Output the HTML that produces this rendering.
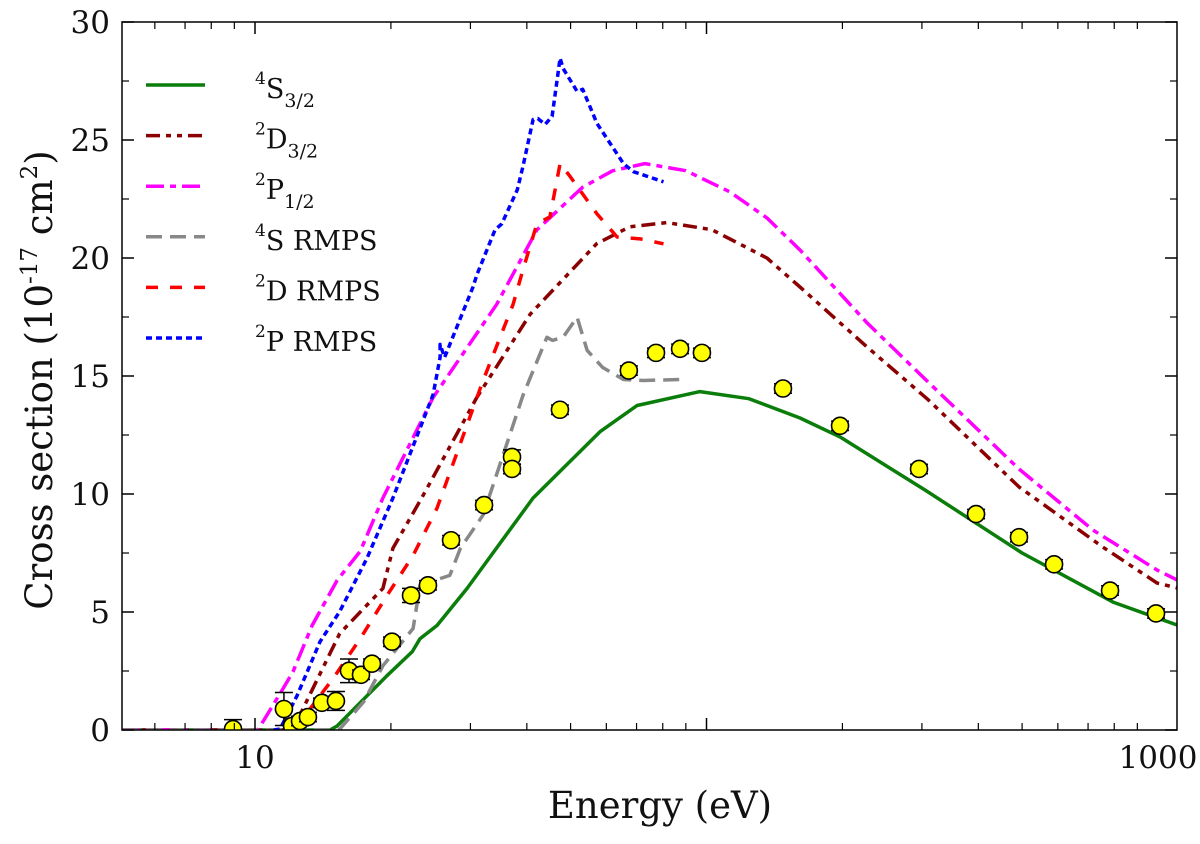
<!DOCTYPE html>
<html><head><meta charset="utf-8"><style>
body{margin:0;background:#fff}
svg text{font-family:"DejaVu Serif","Liberation Serif",serif;fill:#111}
</style></head><body>
<svg id="chart" width="1200" height="839" viewBox="0 0 1200 839" xmlns="http://www.w3.org/2000/svg">
<g id="plot"></g>
<g id="axes"></g>
<g id="legend"></g>
</svg>
<script>
const xTickMajor=[10,1000];
const xTickMajorLabels=["10","1000"];
const yTicks=[0,5,10,15,20,25,30];
const yTickLabels=["0","5","10","15","20","25","30"];
const expE=[8.94,11.59,12.08,12.58,13.10,14.07,15.11,16.15,17.17,18.16,20.11,22.16,24.16,27.18,32.16,37.09,37.09,47.36,67.3,77.3,87.4,97.7,147.7,197.6,295.6,395.4,492.2,588.6,783.1,990];
const expVal=[0.04,0.89,0.17,0.38,0.55,1.15,1.23,2.51,2.34,2.81,3.74,5.70,6.13,8.04,9.53,11.57,11.06,13.57,15.23,15.98,16.15,15.98,14.47,12.89,11.06,9.15,8.17,7.02,5.91,4.94];
const expErr=[0.4,0.7,0.3,0.2,0.2,0.2,0.4,0.5,0.2,0.2,0.2,0.3,0.2,0.2,0.2,0.3,0.2,0.2,0.2,0.2,0.2,0.2,0.2,0.2,0.2,0.2,0.2,0.2,0.2,0.2];
const s4E=[5.07,14.66,15.2,17.7,19.6,22.3,23.2,25.3,29.5,41.3,58.1,70.2,96.7,124.2,161.1,197.6,304.8,500,795,995,1102];
const s4V=[0,0,0.17,1.45,2.3,3.32,3.87,4.43,6.0,9.83,12.64,13.75,14.34,14.04,13.22,12.42,10.17,7.5,5.42,4.75,4.45];
const d2E=[5.07,11.95,12.39,15.4,19.2,20.2,23.4,31.0,40.7,57.1,67.6,81.7,102.8,136.1,161.1,226.8,309.5,492.2,755,995,1102];
const d2V=[0,0,0.38,4.09,6.0,7.70,9.83,14.09,17.62,20.6,21.32,21.5,21.2,20.0,18.77,16.23,14.0,10.3,7.75,6.23,6.02];
const p2E=[5.07,10.15,11.53,12.14,13.38,15.2,17.1,19.2,24.8,34.3,42.1,53.2,62,73.1,90,112.7,136.1,161.1,226.8,309.5,492.2,718,995,1102];
const p2V=[0,0,1.74,2.47,4.43,6.34,7.57,9.83,14.09,18.04,21.19,23.0,23.7,24.0,23.7,22.8,21.7,20.34,17.25,14.75,11.06,8.47,6.78,6.36];
const s4rE=[5.07,14.9,15.4,17.4,19.2,22.4,23.2,27.0,28.5,32.0,39.2,44.3,45.6,48.1,51.7,54.4,58.9,65.5,72.3,87.4];
const s4rV=[0,0,0.04,1.19,2.72,4.30,6.13,6.55,7.70,9.11,14.17,16.64,16.51,16.64,17.49,16.09,15.36,14.85,14.81,14.85];
const d2rE=[12.0,12.39,14.88,17.1,19.6,22.4,25.3,32.0,37.3,39.2,42.1,45.0,47.4,49.9,57.2,63.4,71.3,80.3];
const d2rV=[0,0.17,2.17,3.87,5.70,7.40,9.40,14.81,18.04,19.49,21.45,21.74,24.0,23.45,21.87,20.89,20.81,20.6];
const p2rE=[11.0,11.36,12.39,13.93,15.4,17.7,20.2,24.8,25.7,25.7,26.3,30.4,31.0,34.0,35.2,38.1,39.2,41.3,42.3,43.9,45.5,47.4,48.1,51.7,53.2,57.2,65.5,68.8,80.3];
const p2rV=[0,0.04,1.45,3.74,5.02,7.28,9.83,14.21,15.79,16.34,15.79,18.77,19.28,21.19,21.45,22.89,23.87,25.87,25.91,25.66,26.0,28.47,28.04,27.06,27.15,25.70,24.0,23.66,23.23];

const NS='http://www.w3.org/2000/svg';
const L=122,R=1177,T=22,B=730;
const xLogMin=1-(255-L)/451.5, xPerDec=451.5;
function xs(e){return L+(Math.log10(e)-xLogMin)*xPerDec;}
function ys(v){return B-v*(B-T)/30;}
function mk(tag,attrs,parent){const el=document.createElementNS(NS,tag);for(const k in attrs)el.setAttribute(k,attrs[k]);parent.appendChild(el);return el;}
const plot=document.getElementById('plot'),axes=document.getElementById('axes'),legend=document.getElementById('legend');
const cp=mk('clipPath',{id:'clip'},document.getElementById('chart'));
mk('rect',{x:L,y:T,width:R-L,height:B-T},cp);
plot.setAttribute('clip-path','url(#clip)');

const series=[
 {E:s4E,V:s4V,c:'#0a7d0a',d:'',n:'series-4s32',lab:['4','S','3/2']},
 {E:d2E,V:d2V,c:'#8b0000',d:'14 6 5 6 5 6',n:'series-2d32',lab:['2','D','3/2']},
 {E:p2E,V:p2V,c:'#ff00ff',d:'18 6 6 6',n:'series-2p12',lab:['2','P','1/2']},
 {E:s4rE,V:s4rV,c:'#888888',d:'16 8',n:'series-4s-rmps',lab:['4','S RMPS','']},
 {E:d2rE,V:d2rV,c:'#ff0000',d:'12 12',n:'series-2d-rmps',lab:['2','D RMPS','']},
 {E:p2rE,V:p2rV,c:'#0000ff',d:'6 4',n:'series-2p-rmps',lab:['2','P RMPS','']}
];
series.forEach((s,i)=>{
 const pts=s.E.map((e,j)=>xs(e).toFixed(1)+','+ys(s.V[j]).toFixed(1)).join(' ');
 const pl=mk('polyline',{points:pts,fill:'none',stroke:s.c,'stroke-width':3.5,'stroke-dasharray':s.d||'none','stroke-linejoin':'round'},plot);
 
 
 const ly=85+i*50.6;
 const ln=mk('line',{x1:146,x2:205,y1:ly,y2:ly,stroke:s.c,'stroke-width':3.5,'stroke-dasharray':s.d||'none'},legend);
 
 
 const t=mk('text',{x:255,y:ly+13,'font-size':27},legend);
 
 
 const a=mk('tspan',{'font-size':17,dy:-14},t);a.textContent=s.lab[0];
 const b=mk('tspan',{dy:14},t);b.textContent=s.lab[1];
 if(s.lab[2]){const c=mk('tspan',{'font-size':19,dy:9},t);c.textContent=s.lab[2];}
});
expE.forEach((e,j)=>{
 const x=xs(e),y=ys(expVal[j]),y1=ys(expVal[j]+expErr[j]),y2=ys(expVal[j]-expErr[j]);
 const g=mk('g',{},plot);
 
 
 mk('path',{d:`M${x},${y1}V${y2}M${x-9},${y1}H${x+9}M${x-9},${y2}H${x+9}`,stroke:'#000','stroke-width':1.5,fill:'none'},g);
 mk('circle',{cx:x,cy:y,r:8.5,fill:'#ffff00',stroke:'#000','stroke-width':1.6},g);
});
const fr=mk('rect',{x:L,y:T,width:R-L,height:B-T,stroke:'#000','stroke-width':1.5,fill:'none'},axes);


yTicks.forEach((v,i)=>{
 const y=ys(v);
 mk('line',{x1:L,x2:L+12,y1:y,y2:y,stroke:'#000','stroke-width':1.5},axes);
 mk('line',{x1:R,x2:R-12,y1:y,y2:y,stroke:'#000','stroke-width':1.5},axes);
 if(i<yTicks.length-1){const ym=ys(v+2.5);
  mk('line',{x1:L,x2:L+7,y1:ym,y2:ym,stroke:'#000','stroke-width':1.2},axes);
  mk('line',{x1:R,x2:R-7,y1:ym,y2:ym,stroke:'#000','stroke-width':1.2},axes);}
 const t=mk('text',{x:L-12,y:y+11,'font-size':31,'text-anchor':'end'},axes);
 
 
 t.textContent=yTickLabels[i];
});
for(let d=1;d<=3;d++){for(let m=1;m<=9;m++){const e=m*Math.pow(10,d-1);const x=xs(e);if(x<L||x>R)continue;
 const h=m===1?12:7,w=m===1?1.5:1.2;
 mk('line',{x1:x,x2:x,y1:B,y2:B-h,stroke:'#000','stroke-width':w},axes);
 mk('line',{x1:x,x2:x,y1:T,y2:T+h,stroke:'#000','stroke-width':w},axes);}}
xTickMajor.forEach((e,i)=>{
 const t=mk('text',{x:xs(e),y:B+38,'font-size':31,'text-anchor':'middle'},axes);
 
 
 t.textContent=xTickMajorLabels[i];
});
const xt=mk('text',{x:660,y:818,'font-size':37,'text-anchor':'middle'},axes);


xt.textContent='Energy (eV)';
const yt=mk('text',{x:0,y:0,'font-size':37,'text-anchor':'middle',transform:'translate(52,380) rotate(-90)'},axes);


yt.innerHTML='Cross section (10<tspan font-size="23" dy="-15">-17</tspan><tspan dy="15"> cm</tspan><tspan font-size="23" dy="-15">2</tspan><tspan dy="15">)</tspan>';
</script>
</body></html>
